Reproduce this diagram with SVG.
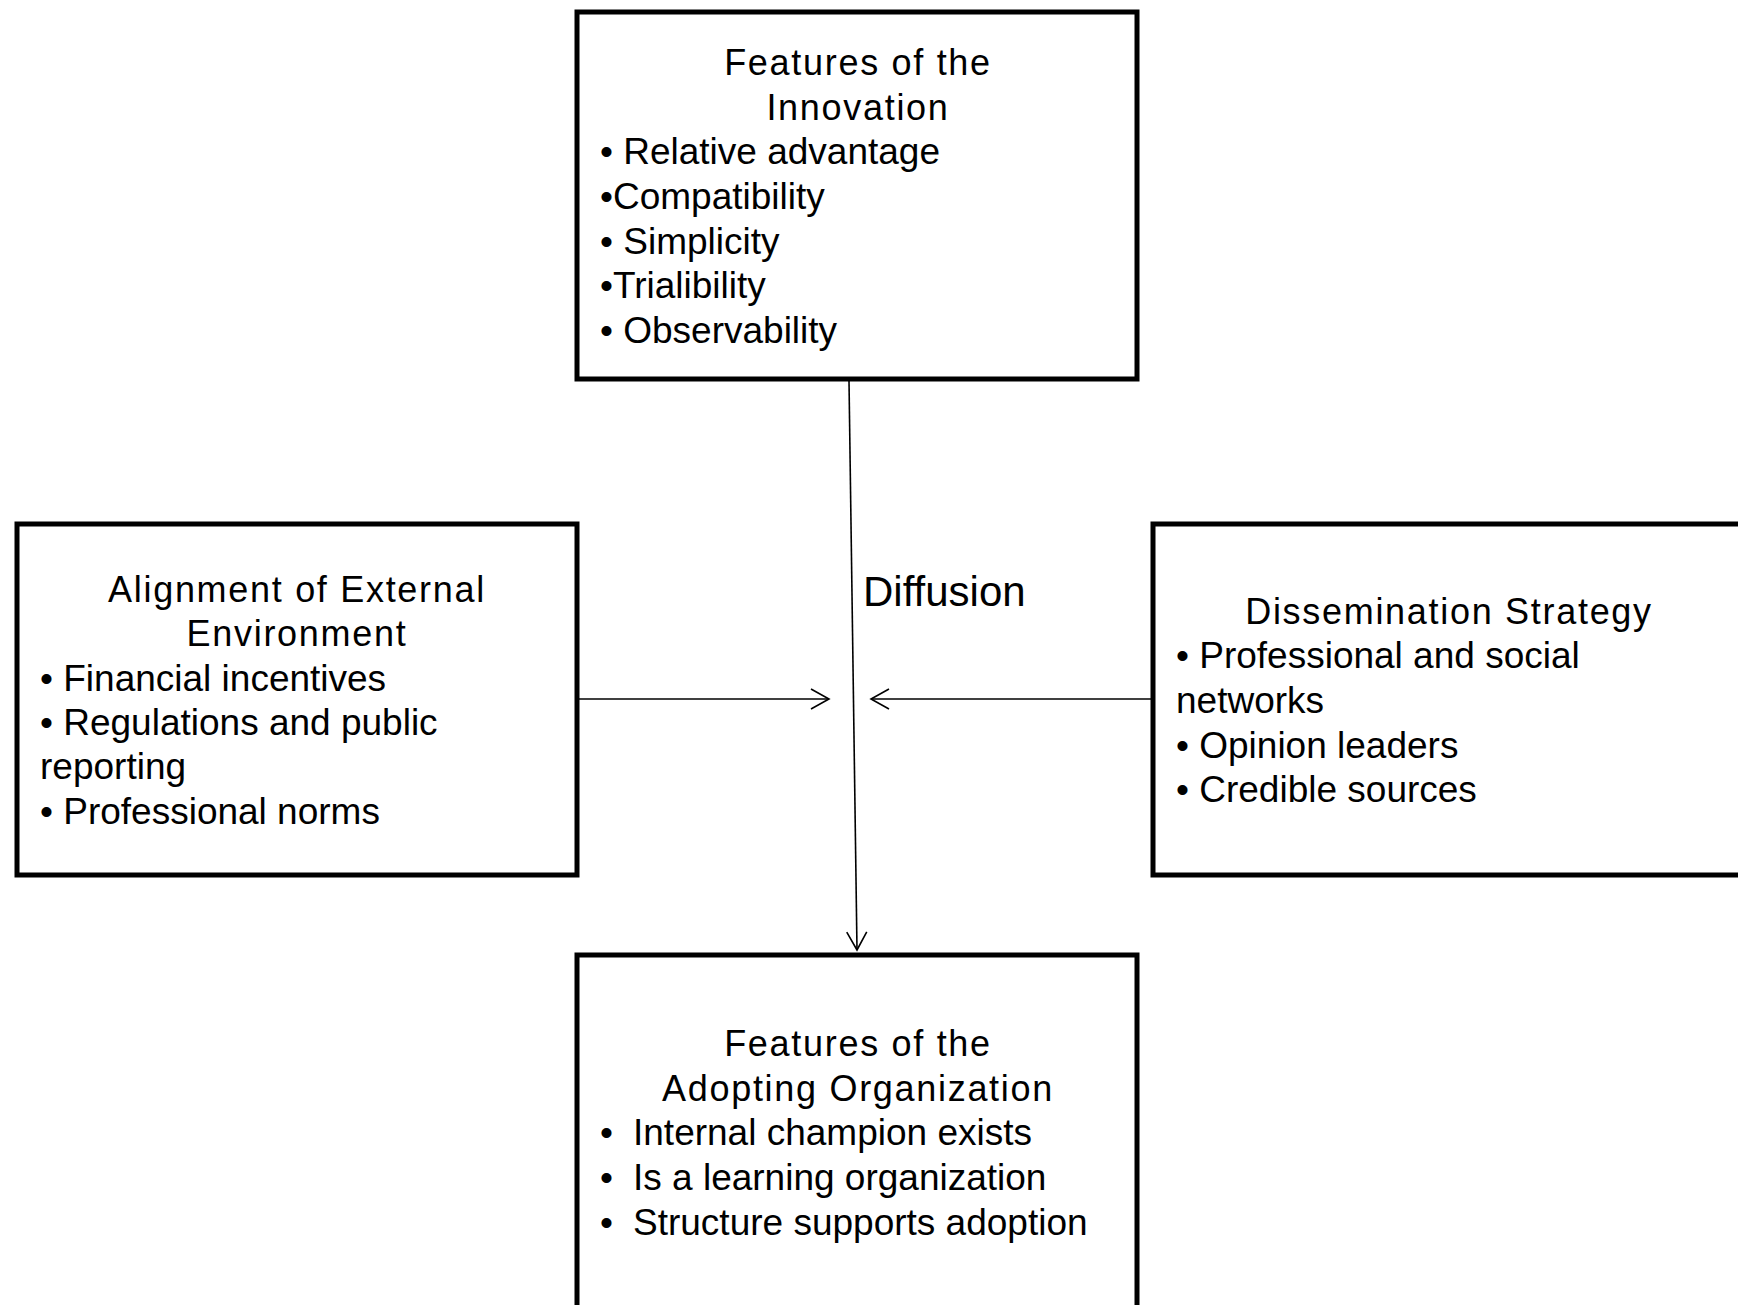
<svg xmlns="http://www.w3.org/2000/svg" width="1738" height="1305" viewBox="0 0 1738 1305">
<style>
.box{fill:#fff;stroke:#000;stroke-width:5}
.t{font-family:"Liberation Sans",Arial,sans-serif;font-size:36px;letter-spacing:1.7px;text-anchor:middle;fill:#000}
.b{font-family:"Liberation Sans",Arial,sans-serif;font-size:37px;fill:#000}
.c{fill:none;stroke:#000;stroke-width:1.6}
</style>
<defs>
<marker id="arr" viewBox="-22 -13 24 26" refX="0" refY="0" markerWidth="24" markerHeight="26" markerUnits="userSpaceOnUse" orient="auto">
<path d="M-18,-10 L0,0 L-18,10" fill="none" stroke="#000" stroke-width="1.6"/>
</marker>
</defs>
<rect width="1738" height="1305" fill="#fff"/>
<g id="connectors">
<line class="c" x1="849" y1="381" x2="857" y2="950" marker-end="url(#arr)"/>
<line class="c" x1="579" y1="699" x2="829" y2="699" marker-end="url(#arr)"/>
<line class="c" x1="1151" y1="699" x2="871" y2="699" marker-end="url(#arr)"/>
<text class="b" x="863" y="606" style="font-size:42px">Diffusion</text>
</g>
<g id="innovation">
<rect class="box" x="577" y="12" width="560" height="367"/>
<text class="t" x="858" y="75">Features of the</text>
<text class="t" x="858" y="120">Innovation</text>
<text class="b" x="600" y="164">• Relative advantage</text>
<text class="b" x="600" y="209">•Compatibility</text>
<text class="b" x="600" y="254">• Simplicity</text>
<text class="b" x="600" y="298">•Trialibility</text>
<text class="b" x="600" y="343">• Observability</text>
</g>
<g id="external">
<rect class="box" x="17" y="524" width="560" height="351"/>
<text class="t" x="297" y="602">Alignment of External</text>
<text class="t" x="297" y="646">Environment</text>
<text class="b" x="40" y="691">• Financial incentives</text>
<text class="b" x="40" y="735">• Regulations and public</text>
<text class="b" x="40" y="779">reporting</text>
<text class="b" x="40" y="824">• Professional norms</text>
</g>
<g id="dissemination">
<rect class="box" x="1153" y="524" width="600" height="351"/>
<text class="t" x="1449" y="624">Dissemination Strategy</text>
<text class="b" x="1176" y="668">• Professional and social</text>
<text class="b" x="1176" y="713">networks</text>
<text class="b" x="1176" y="758">• Opinion leaders</text>
<text class="b" x="1176" y="802">• Credible sources</text>
</g>
<g id="organization">
<rect class="box" x="577" y="955" width="560" height="370"/>
<text class="t" x="858" y="1056">Features of the</text>
<text class="t" x="858" y="1101">Adopting Organization</text>
<text class="b" x="600" y="1145">•</text><text class="b" x="633" y="1145">Internal champion exists</text>
<text class="b" x="600" y="1190">•</text><text class="b" x="633" y="1190">Is a learning organization</text>
<text class="b" x="600" y="1235">•</text><text class="b" x="633" y="1235">Structure supports adoption</text>
</g>
</svg>
